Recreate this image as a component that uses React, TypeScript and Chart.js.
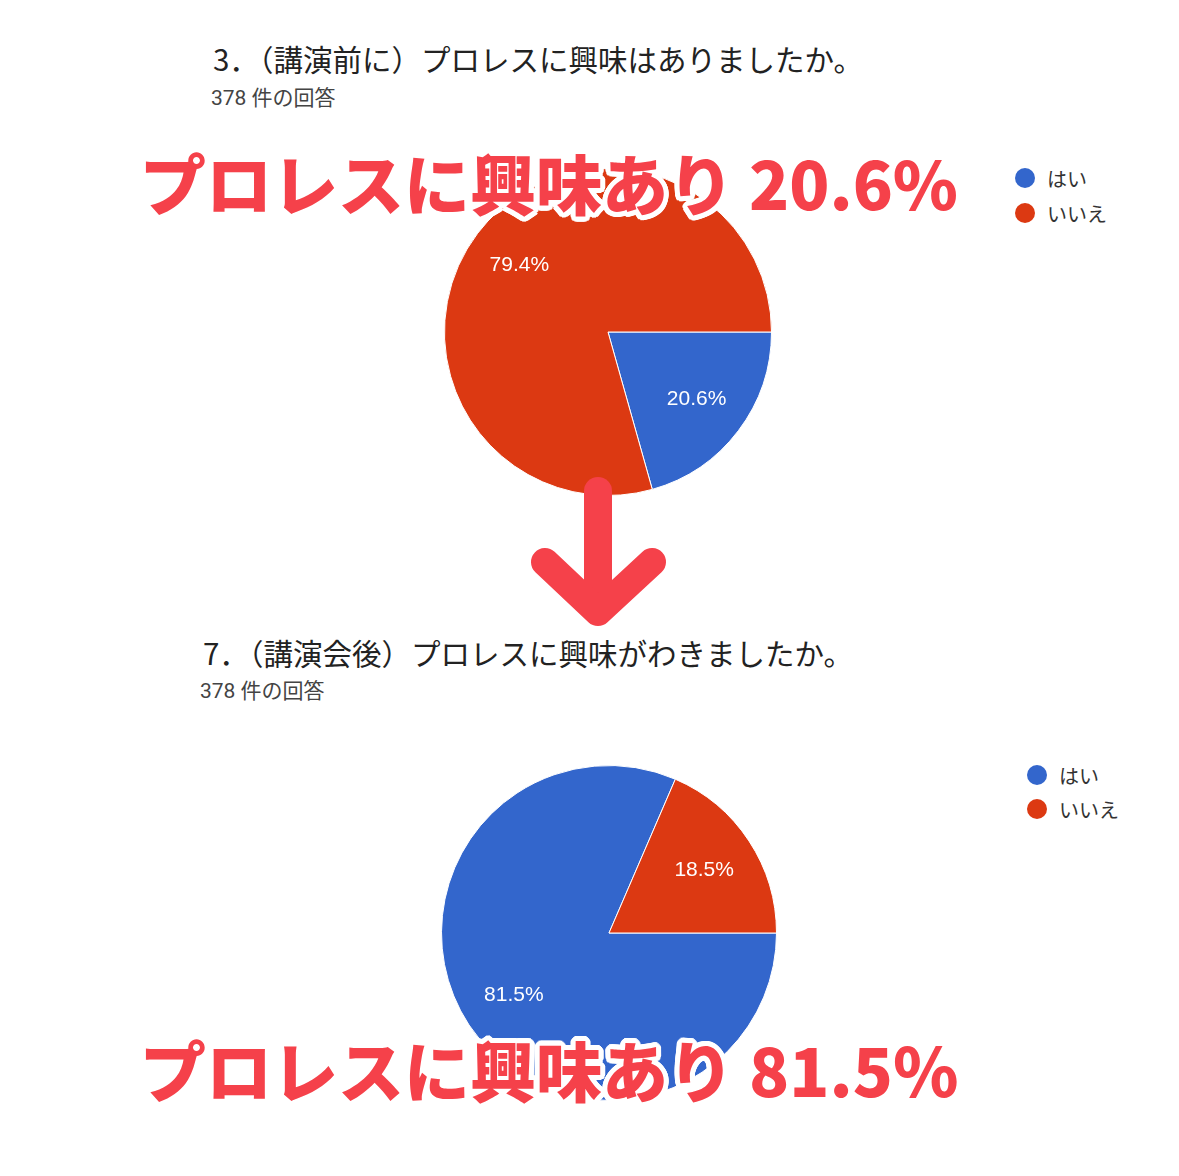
import React, { useEffect, useRef } from "react";
import { Chart, registerables } from "chart.js";

Chart.register(...registerables);

// ---- data ----
const categories = ["はい", "いいえ"];
const beforeCounts = [78, 300];
const afterCounts = [308, 70];
const sliceColors = ["#3366cc", "#dc3912"];
const beforeTitle = "3．（講演前に）プロレスに興味はありましたか。";
const afterTitle = "7．（講演会後）プロレスに興味がわきましたか。";
const responseLabel = "378 件の回答";
const beforeHeadline = "プロレスに興味あり 20.6%";
const afterHeadline = "プロレスに興味あり 81.5％";

const pctLabels = {
  id: "pctLabels",
  afterDatasetsDraw(chart: any) {
    const ctx = chart.ctx;
    const vals = chart.data.datasets[0].data as number[];
    const total = vals.reduce((a: number, b: number) => a + b, 0);
    const meta = chart.getDatasetMeta(0);
    ctx.save();
    ctx.fillStyle = "#ffffff";
    ctx.font = "21px 'Liberation Sans', Arial, sans-serif";
    ctx.textAlign = "center";
    ctx.textBaseline = "middle";
    meta.data.forEach((arc: any, i: number) => {
      const p = arc.getProps(["x", "y", "startAngle", "endAngle", "outerRadius"], true);
      const mid = (p.startAngle + p.endAngle) / 2;
      const r = p.outerRadius * 0.68;
      ctx.fillText(((vals[i] / total) * 100).toFixed(1) + "%", p.x + Math.cos(mid) * r, p.y + Math.sin(mid) * r);
    });
    ctx.restore();
  },
};

function Pie({ values, left, top, size }: { values: number[]; left: number; top: number; size: number }) {
  const ref = useRef<HTMLCanvasElement>(null);
  useEffect(() => {
    if (!ref.current) return;
    const chart = new Chart(ref.current, {
      type: "pie",
      data: {
        labels: categories,
        datasets: [
          {
            data: values,
            backgroundColor: sliceColors,
            borderColor: "#ffffff",
            borderWidth: 1,
          },
        ],
      },
      options: {
        responsive: false,
        animation: false,
        rotation: 90,
        layout: { padding: 0 },
        plugins: { legend: { display: false }, tooltip: { enabled: false } },
      },
      plugins: [pctLabels],
    } as any);
    return () => chart.destroy();
  }, []);
  return (
    <canvas
      ref={ref}
      width={size}
      height={size}
      style={{ position: "absolute", left, top, width: size, height: size, display: "block" }}
    />
  );
}

function Legend({ left, top, gap }: { left: number; top: number; gap: number }) {
  return (
    <>
      {categories.map((c, i) => (
        <div
          key={c}
          style={{
            position: "absolute",
            left,
            top: top + i * gap - 12,
            height: 24,
            display: "flex",
            alignItems: "center",
            whiteSpace: "nowrap",
            fontFamily: "'Noto Sans CJK JP', sans-serif",
            fontSize: 20,
            color: "#333",
          }}
        >
          <span
            style={{
              display: "inline-block",
              width: 20,
              height: 20,
              borderRadius: 10,
              background: sliceColors[i],
              marginRight: 12,
            }}
          />
          {c}
        </div>
      ))}
    </>
  );
}

const outline = (() => {
  const parts: string[] = [];
  for (let a = 0; a < 24; a++) {
    const t = (a / 24) * Math.PI * 2;
    parts.push(`${(Math.cos(t) * 5).toFixed(1)}px ${(Math.sin(t) * 5).toFixed(1)}px 0 #fff`);
  }
  return parts.join(",");
})();

function Headline({ text, left, cy }: { text: string; left: number; cy: number }) {
  return (
    <div
      style={{
        position: "absolute",
        left,
        top: cy - 35,
        height: 70,
        lineHeight: "70px",
        fontSize: 66,
        fontWeight: 900,
        fontFamily: "'Noto Sans CJK JP', sans-serif",
        color: "#f5414a",
        whiteSpace: "nowrap",
        textShadow: outline,
      }}
    >
      {text}
    </div>
  );
}

function Title({ text, left, cy }: { text: string; left: number; cy: number }) {
  return (
    <div
      style={{
        position: "absolute",
        left,
        top: cy - 19,
        height: 38,
        lineHeight: "38px",
        fontSize: 29.5,
        fontFamily: "'Noto Sans CJK JP', sans-serif",
        color: "#222",
        whiteSpace: "nowrap",
      }}
    >
      {text}
    </div>
  );
}

function Sub({ text, left, cy }: { text: string; left: number; cy: number }) {
  return (
    <div
      style={{
        position: "absolute",
        left,
        top: cy - 14,
        height: 28,
        lineHeight: "28px",
        fontSize: 21,
        fontFamily: "Roboto, 'Noto Sans CJK JP', sans-serif",
        color: "#444",
        whiteSpace: "nowrap",
      }}
    >
      {text}
    </div>
  );
}

export default function App() {
  return (
    <div
      style={{
        position: "absolute",
        left: 0,
        top: 0,
        width: 1179,
        height: 1176,
        overflow: "hidden",
        background: "#ffffff",
      }}
    >
      <Title text={beforeTitle} left={213} cy={58} />
      <Sub text={responseLabel} left={211} cy={98} />
      <Pie values={beforeCounts} left={444} top={168} size={328} />
      <Legend left={1015} top={178} gap={35} />

      <Title text={afterTitle} left={203} cy={652} />
      <Sub text={responseLabel} left={200} cy={691} />
      <Pie values={afterCounts} left={441} top={765} size={336} />
      <Legend left={1027} top={775} gap={34} />

      <svg
        width={1179}
        height={1176}
        style={{ position: "absolute", left: 0, top: 0, pointerEvents: "none" }}
      >
        <g stroke="#f5414a" strokeWidth={28} strokeLinecap="round" strokeLinejoin="round" fill="none">
          <line x1={598} y1={491} x2={598} y2={605} />
          <polyline points="545,562 598,612 652,562" />
        </g>
      </svg>

      <Headline text={beforeHeadline} left={140} cy={181} />
      <Headline text={afterHeadline} left={140} cy={1068} />
    </div>
  );
}
